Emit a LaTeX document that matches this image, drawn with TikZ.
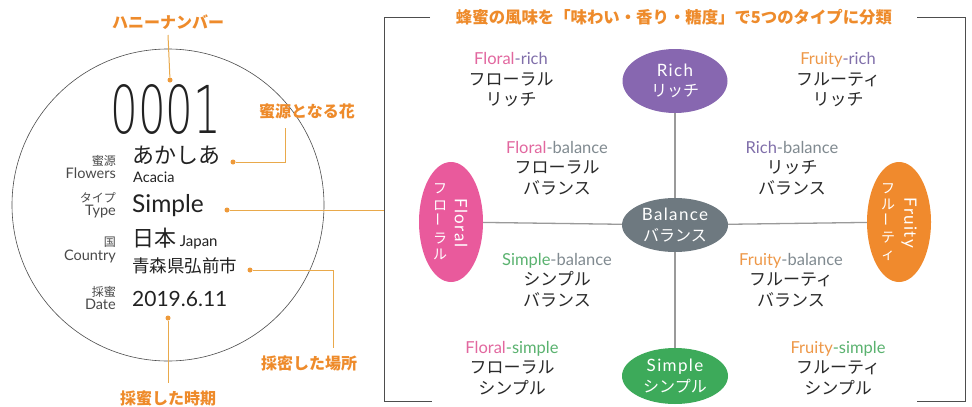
\documentclass[tikz,border=0pt]{standalone}
\usepackage{fontspec}
\usepackage{graphicx}
\usetikzlibrary{shapes.geometric}
\setmainfont{Lato}
\newfontfamily\jp{Noto Sans CJK JP}
\newfontfamily\lsp[LetterSpace=8]{Lato}
\newfontfamily\thinf{DejaVu Sans ExtraLight}
\definecolor{labOr}{HTML}{EE8B2B}
\definecolor{lineOr}{HTML}{E9A94B}
\definecolor{dotOr}{HTML}{EE9A3A}
\definecolor{grayT}{HTML}{4A4A4A}
\definecolor{darkT}{HTML}{222222}
\definecolor{frameC}{HTML}{4D4D4D}
\definecolor{axisC}{HTML}{9A9A9A}
\definecolor{cRich}{HTML}{8767B0}
\definecolor{cBal}{HTML}{6E7980}
\definecolor{cSim}{HTML}{3DAA5A}
\definecolor{cFlo}{HTML}{E95A9C}
\definecolor{cFru}{HTML}{F08A2D}
\definecolor{tFlo}{HTML}{E2679F}
\definecolor{tRich}{HTML}{806FAA}
\definecolor{tBal}{HTML}{808A90}
\definecolor{tSim}{HTML}{5AB26F}
\definecolor{tFru}{HTML}{EE9848}
\definecolor{jpT}{HTML}{2A2A2A}
\newcommand{\fsz}[2]{\fontsize{#1}{#2}\selectfont}
\begin{document}
\begin{tikzpicture}[x=1pt,y=-1pt,
  lbl/.style={text=labOr, font=\jp\bfseries\fsz{16}{18}, inner sep=0},
  orl/.style={draw=lineOr, line width=1pt},
  odot/.style={circle, fill=dotOr, inner sep=0, minimum size=5pt},
  smallL/.style={text=grayT, anchor=mid east, inner sep=0},
  val/.style={text=darkT, anchor=mid west, inner sep=0},
  ell/.style={ellipse, fill=#1, text=white, inner sep=0, align=center, font=\fsz{17}{20.5}},
  quad/.style={align=center, inner sep=0, text=jpT, font=\fsz{16.5}{20.5}},
  axis/.style={draw=axisC, line width=1.3pt},
  frame/.style={draw=frameC, line width=0.9pt}]
\useasboundingbox (0,0) rectangle (972,407);
\fill[white] (0,0) rectangle (972,407);

% ---- left circle ----
\node[circle, draw=frameC, line width=0.6pt, minimum size=312pt, inner sep=0] (circ) at (168,205) {};

\node[text=darkT, inner sep=0, anchor=base, text height=47pt, text depth=0pt] (num) at (166,133) {\scalebox{0.66}[1]{\thinf\fsz{66}{66}0001}};

\node[smallL] (kL1) at (116,163) {\jp\fsz{12}{12}蜜源};
\node[smallL] (kL2) at (116,176) {\fsz{14.5}{15}Flowers};
\node[smallL] (tL1) at (116,200) {\jp\fsz{12}{12}タイプ};
\node[smallL] (tL2) at (116,213) {\fsz{14.5}{15}Type};
\node[smallL] (cL1) at (116,244) {\jp\fsz{12}{12}国};
\node[smallL] (cL2) at (116,258) {\fsz{14.5}{15}Country};
\node[smallL] (dL1) at (116,294) {\jp\fsz{12}{12}採蜜};
\node[smallL] (dL2) at (116,307) {\fsz{14.5}{15}Date};

\node[val] (acJ) at (132,161) {\jp\fsz{22}{22}あかしあ};
\node[val] (acE) at (133,180) {\fsz{14.5}{15}Acacia};
\node[val] (simp) at (132,210) {\fsz{24.5}{25}Simple};
\node[val] (jpn) at (132,244) {\jp\fsz{22}{22}日本\,\fsz{15}{15}\rmfamily Japan};
\node[val] (pref) at (132,270) {\jp\fsz{17.5}{18}青森県弘前市};
\node[val] (date) at (132,304) {\fsz{21}{21}2019.6.11};

% ---- orange callouts ----
\node[lbl] (hn) at (168,22) {ハニーナンバー};
\node[odot] (d1) at (170,80) {};
\draw[orl] (d1) -- (hn.south |- 0,35);

\node[lbl] (mg) at (307,111) {蜜源となる花};
\node[odot] (d2) at (233,162) {};
\coordinate (c2) at (285,162);
\draw[orl] (d2) -- (c2) -- (285,128);

\node[odot] (d3) at (227,210) {};
\coordinate (c3) at (384,210);
\draw[orl] (d3) -- (c3);

\node[lbl] (bs) at (309,363) {採密した場所};
\node[odot] (d4) at (250,270) {};
\coordinate (c4) at (333,270);
\draw[orl] (d4) -- (c4) -- (333,348);

\node[lbl] (bj) at (168,398) {採蜜した時期};
\node[odot] (d5) at (168,318) {};
\draw[orl] (d5) -- (168,383);

% ---- right frame ----
\node[lbl] (title) at (674,17) {\resizebox{436pt}{!}{蜂蜜の風味を「味わい・香り・糖度」で5つのタイプに分類}};
\draw[frame] (430,17) -- (384,17) -- (384,401) -- (432,401);
\draw[frame] (917,17) -- (965,17) -- (965,401) -- (917,401);

% ---- ellipses ----
\node[ell=cRich, minimum width=105pt, minimum height=64pt] (rich) at (675,81)
  {\lsp Rich\\\jp\fsz{16}{20.5}リッチ};
\node[ell=cBal, minimum width=106pt, minimum height=54pt] (bal) at (675,225)
  {\lsp Balance\\\jp\fsz{16}{20.5}バランス};
\node[ell=cSim, minimum width=106pt, minimum height=56pt] (simple) at (675,376)
  {\lsp Simple\\\jp\fsz{16}{20.5}シンプル};
\node[ell=cFlo, minimum width=64pt, minimum height=120pt] (floral) at (451,222) {};
\node[ell=cFru, minimum width=64pt, minimum height=120pt] (fruity) at (899,222) {};

\draw[axis] (floral) -- (bal);
\draw[axis] (bal) -- (fruity);
\draw[axis] (rich) -- (bal);
\draw[axis] (bal) -- (simple);

% vertical texts
\node[text=white, inner sep=0, align=center, font=\jp\fsz{14}{16.5}] (floJ) at (440,222)
  {フ\\ロ\\\rotatebox{90}{ー}\\ラ\\ル};
\node[text=white, inner sep=0, rotate=-90, font=\lsp\fsz{17}{17}] (floE) at (461,223) {Floral};
\node[text=white, inner sep=0, align=center, font=\jp\fsz{14}{16.5}] (fruJ) at (888,222)
  {フ\\ル\\\rotatebox{90}{ー}\\テ\\ィ};
\node[text=white, inner sep=0, rotate=-90, font=\lsp\fsz{17}{17}] (fruE) at (909,223) {Fruity};

% ---- quadrant labels ----
\node[quad] (q1) at (511,80) {\textcolor{tFlo}{Floral}\textcolor{tRich}{-rich}\\{\jp\fsz{17}{20.5}フローラル}\\{\jp\fsz{17}{20.5}リッチ}};
\node[quad] (q2) at (838,80) {\textcolor{tFru}{Fruity}\textcolor{tRich}{-rich}\\{\jp\fsz{17}{20.5}フルーティ}\\{\jp\fsz{17}{20.5}リッチ}};
\node[quad] (q3) at (557,168) {\textcolor{tFlo}{Floral}\textcolor{tBal}{-balance}\\{\jp\fsz{17}{20.5}フローラル}\\{\jp\fsz{17}{20.5}バランス}};
\node[quad] (q4) at (792,168) {\textcolor{tRich}{Rich}\textcolor{tBal}{-balance}\\{\jp\fsz{17}{20.5}リッチ}\\{\jp\fsz{17}{20.5}バランス}};
\node[quad] (q5) at (557,280) {\textcolor{tSim}{Simple}\textcolor{tBal}{-balance}\\{\jp\fsz{17}{20.5}シンプル}\\{\jp\fsz{17}{20.5}バランス}};
\node[quad] (q6) at (791,280) {\textcolor{tFru}{Fruity}\textcolor{tBal}{-balance}\\{\jp\fsz{17}{20.5}フルーティ}\\{\jp\fsz{17}{20.5}バランス}};
\node[quad] (q7) at (512,368) {\textcolor{tFlo}{Floral}\textcolor{tSim}{-simple}\\{\jp\fsz{17}{20.5}フローラル}\\{\jp\fsz{17}{20.5}シンプル}};
\node[quad] (q8) at (838,368) {\textcolor{tFru}{Fruity}\textcolor{tSim}{-simple}\\{\jp\fsz{17}{20.5}フルーティ}\\{\jp\fsz{17}{20.5}シンプル}};
\end{tikzpicture}
\end{document}
